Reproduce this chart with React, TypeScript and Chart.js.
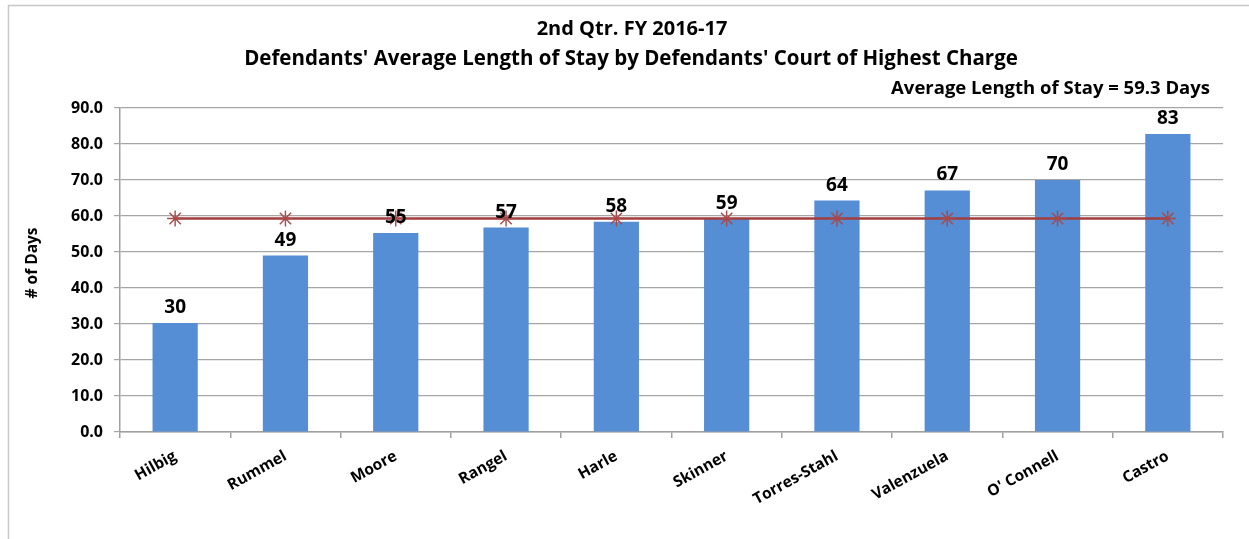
import React, { useEffect, useRef } from "react";
import { Chart, registerables } from "chart.js";

Chart.register(...registerables);

const categories = ["Hilbig", "Rummel", "Moore", "Rangel", "Harle", "Skinner", "Torres-Stahl", "Valenzuela", "O' Connell", "Castro"];
const stayDays = [30.3, 49.0, 55.3, 56.8, 58.4, 59.2, 64.3, 67.1, 70.0, 82.8];
const averageStay = [59.3, 59.3, 59.3, 59.3, 59.3, 59.3, 59.3, 59.3, 59.3, 59.3];
const titleLines = ["2nd Qtr. FY 2016-17", "Defendants' Average Length of Stay by Defendants' Court of Highest Charge"];
const averageLabel = "Average Length of Stay = 59.3 Days";
const yTitle = "# of Days";

const FONT = "'Open Sans', Lato, sans-serif";

const decorPlugin = {
  id: "decor",
  beforeDraw(chart: any) {
    const ctx = chart.ctx;
    ctx.save();
    ctx.fillStyle = "#ffffff";
    ctx.fillRect(0, 0, chart.width, chart.height);
    ctx.strokeStyle = "#c8c8c8";
    ctx.lineWidth = 1.5;
    ctx.beginPath();
    ctx.moveTo(8.5, chart.height);
    ctx.lineTo(8.5, 5.5);
    ctx.lineTo(chart.width, 5.5);
    ctx.stroke();
    ctx.restore();
  },
  afterDraw(chart: any) {
    const ctx = chart.ctx;
    ctx.save();
    ctx.fillStyle = "#000000";
    ctx.textAlign = "center";
    ctx.textBaseline = "middle";
    ctx.font = `bold 20px ${FONT}`;
    ctx.fillText(titleLines[0], 632, 29);
    ctx.font = `bold 20.5px ${FONT}`;
    ctx.fillText(titleLines[1], 631, 59);
    ctx.font = `bold 18.5px ${FONT}`;
    ctx.textAlign = "right";
    ctx.fillText(averageLabel, 1210, 89);
    ctx.save();
    ctx.translate(33, 263);
    ctx.rotate(-Math.PI / 2);
    ctx.textAlign = "center";
    ctx.font = `bold 15.5px ${FONT}`;
    ctx.fillText(yTitle, 0, 0);
    ctx.restore();
    // data labels
    const meta = chart.getDatasetMeta(0);
    ctx.font = `bold 19px ${FONT}`;
    ctx.textAlign = "center";
    ctx.textBaseline = "alphabetic";
    meta.data.forEach((bar: any, i: number) => {
      ctx.fillText(String(Math.round(stayDays[i])), bar.x, bar.y - 10);
    });
    ctx.restore();
  },
};

export default function App() {
  const ref = useRef<HTMLCanvasElement>(null);
  useEffect(() => {
    if (!ref.current) return;
    const chart = new Chart(ref.current, {
      type: "bar",
      data: {
        labels: categories,
        datasets: [
          {
            type: "bar",
            label: "Average Length of Stay",
            data: stayDays,
            backgroundColor: "#558ed5",
            borderWidth: 0,
            barPercentage: 0.41,
            categoryPercentage: 1,
            order: 1,
          } as any,
          {
            type: "line",
            label: "Average",
            data: averageStay,
            borderColor: "#a33d3d",
            borderWidth: 2.5,
            pointStyle: "star",
            pointRadius: 8,
            pointBorderColor: "#a84848",
            pointBorderWidth: 1.4,
            pointBackgroundColor: "#a84848",
            order: 0,
          } as any,
        ],
      },
      options: {
        responsive: false,
        animation: false,
        layout: { padding: { left: 0, right: 26, top: 108, bottom: 0 } },
        plugins: {
          legend: { display: false },
          title: { display: false },
          tooltip: { enabled: false },
        },
        scales: {
          x: {
            grid: {
              offset: true,
              drawOnChartArea: false,
              drawTicks: true,
              tickLength: 6,
              color: "#a0a0a0",
              lineWidth: 1.5,
            },
            border: { color: "#a0a0a0", width: 1.5 },
            ticks: {
              minRotation: 29,
              maxRotation: 29,
              padding: 9,
              color: "#000000",
              font: { family: FONT, size: 15.5, weight: "bold" },
            },
            afterFit(scale: any) {
              scale.height = 107;
            },
          },
          y: {
            min: 0,
            max: 90,
            ticks: {
              stepSize: 10,
              padding: 11,
              color: "#000000",
              font: { family: FONT, size: 16, weight: "bold" },
              callback: (v: any) => Number(v).toFixed(1),
            },
            grid: {
              color: "#a6a6a6",
              lineWidth: 1.2,
              tickLength: 6,
            },
            border: { color: "#a0a0a0", width: 1.5 },
            afterFit(scale: any) {
              scale.width = 120;
            },
          },
        },
      } as any,
      plugins: [decorPlugin],
    });
    return () => chart.destroy();
  }, []);
  return (
    <div style={{ position: "absolute", left: 0, top: 0, width: 1249, height: 539 }}>
      <canvas ref={ref} width={1249} height={539} style={{ display: "block", width: 1249, height: 539 }} />
    </div>
  );
}
